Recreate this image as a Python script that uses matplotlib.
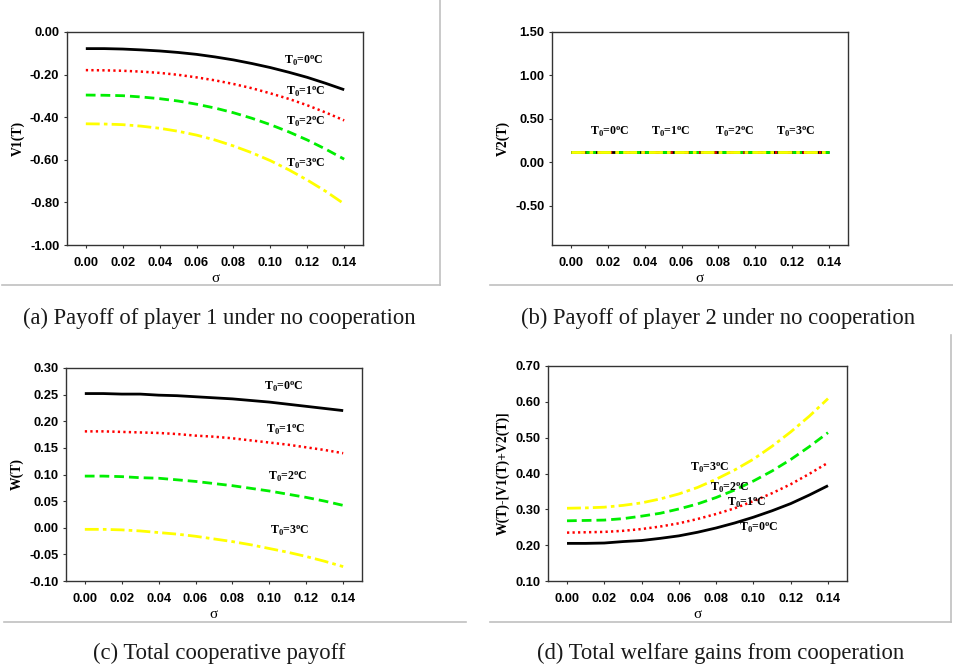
import matplotlib
matplotlib.use("Agg")
import matplotlib.pyplot as plt
from matplotlib.lines import Line2D

plt.rcParams["mathtext.fontset"] = "custom"
plt.rcParams["mathtext.rm"] = "Liberation Serif:bold"
plt.rcParams["mathtext.it"] = "Liberation Serif:bold:italic"
plt.rcParams["mathtext.bf"] = "Liberation Serif:bold"

# ---- data -------------------------------------------------------------
sigma = [0.00, 0.01, 0.02, 0.03, 0.04, 0.05, 0.06, 0.07,
         0.08, 0.09, 0.10, 0.11, 0.12, 0.13, 0.14]

temps = ["0", "1", "2", "3"]

# (a) payoff of player 1 under no cooperation
v1_t0 = [-0.078, -0.078, -0.080, -0.084, -0.089, -0.096, -0.105, -0.117,
         -0.131, -0.148, -0.167, -0.189, -0.213, -0.241, -0.271]
v1_t1 = [-0.179, -0.180, -0.182, -0.186, -0.192, -0.201, -0.213, -0.227,
         -0.244, -0.264, -0.288, -0.314, -0.344, -0.378, -0.415]
v1_t2 = [-0.296, -0.297, -0.299, -0.305, -0.313, -0.324, -0.339, -0.357,
         -0.379, -0.405, -0.435, -0.469, -0.507, -0.550, -0.597]
v1_t3 = [-0.431, -0.432, -0.435, -0.442, -0.452, -0.466, -0.484, -0.507,
         -0.535, -0.567, -0.604, -0.647, -0.695, -0.748, -0.807]

# (b) payoff of player 2 under no cooperation
v2_t0 = [0.125] * 15
v2_t1 = [0.125] * 15
v2_t2 = [0.125] * 15
v2_t3 = [0.125] * 15

# (c) total cooperative payoff
w_t0 = [0.252, 0.252, 0.251, 0.251, 0.249, 0.248, 0.246, 0.244,
        0.242, 0.239, 0.236, 0.232, 0.228, 0.224, 0.220]
w_t1 = [0.181, 0.181, 0.180, 0.179, 0.178, 0.176, 0.173, 0.171,
        0.168, 0.164, 0.160, 0.156, 0.151, 0.146, 0.140]
w_t2 = [0.097, 0.097, 0.096, 0.094, 0.093, 0.090, 0.087, 0.083,
        0.079, 0.074, 0.069, 0.063, 0.057, 0.050, 0.042]
w_t3 = [-0.003, -0.003, -0.004, -0.006, -0.009, -0.012, -0.016, -0.021,
        -0.026, -0.032, -0.039, -0.046, -0.054, -0.063, -0.073]

# (d) total welfare gains from cooperation
g_t0 = [0.205, 0.205, 0.206, 0.210, 0.213, 0.219, 0.226, 0.236,
        0.248, 0.262, 0.278, 0.296, 0.316, 0.340, 0.366]
g_t1 = [0.235, 0.236, 0.237, 0.240, 0.245, 0.252, 0.261, 0.273,
        0.287, 0.303, 0.323, 0.345, 0.370, 0.399, 0.430]
g_t2 = [0.268, 0.269, 0.270, 0.274, 0.281, 0.289, 0.301, 0.315,
        0.333, 0.354, 0.379, 0.407, 0.439, 0.475, 0.514]
g_t3 = [0.303, 0.304, 0.306, 0.311, 0.318, 0.329, 0.343, 0.361,
        0.384, 0.410, 0.440, 0.476, 0.516, 0.560, 0.609]

x_ticks = [0.00, 0.02, 0.04, 0.06, 0.08, 0.10, 0.12, 0.14]

# label anchor points (sigma, value) for each temperature
lab_a = [(0.118, -0.135), (0.119, -0.281), (0.119, -0.422), (0.119, -0.618)]
lab_b = [(0.021, 0.353), (0.054, 0.353), (0.089, 0.353), (0.122, 0.353)]
lab_c = [(0.108, 0.265), (0.109, 0.183), (0.110, 0.096), (0.111, -0.006)]
lab_d = [(0.1027, 0.249), (0.0966, 0.317), (0.0872, 0.359), (0.0765, 0.4145)]

captions = ["(a) Payoff of player 1 under no cooperation",
            "(b) Payoff of player 2 under no cooperation",
            "(c) Total cooperative payoff",
            "(d) Total welfare gains from cooperation"]

# ---- styles -----------------------------------------------------------
styles = [
    dict(color="#000000", lw=2.0, ls="-"),
    dict(color="#ff0000", lw=1.8, ls=(0, (0.9, 1.3))),
    dict(color="#00ee00", lw=2.0, ls=(0, (3.5, 1.8))),
    dict(color="#ffff00", lw=2.0, ls=(0, (5, 1.5, 1.3, 1.5))),
]

W, H = 954, 669
fig = plt.figure(figsize=(W / 100, H / 100), dpi=100)


def box(l, r, t, b):
    return [l / W, 1 - b / H, (r - l) / W, (b - t) / H]


panels = [
    dict(rect=box(67, 363, 32, 245), series=[v1_t0, v1_t1, v1_t2, v1_t3],
         ylim=(-1.0, 0.0), yticks=[-1.0, -0.8, -0.6, -0.4, -0.2, 0.0],
         ylabel="V1(T)", labels=lab_a),
    dict(rect=box(552, 848, 32, 245), series=[v2_t0, v2_t1, v2_t2, v2_t3],
         ylim=(-0.95, 1.5), yticks=[-0.5, 0.0, 0.5, 1.0, 1.5],
         ylabel="V2(T)", labels=lab_b),
    dict(rect=box(66, 362, 368, 581), series=[w_t0, w_t1, w_t2, w_t3],
         ylim=(-0.10, 0.30), yticks=[-0.10, -0.05, 0.0, 0.05, 0.10, 0.15, 0.20, 0.25, 0.30],
         ylabel="W(T)", labels=lab_c),
    dict(rect=box(548, 847, 366, 581), series=[g_t0, g_t1, g_t2, g_t3],
         ylim=(0.10, 0.70), yticks=[0.1, 0.2, 0.3, 0.4, 0.5, 0.6, 0.7],
         ylabel="W(T)-[V1(T)+V2(T)]", labels=lab_d),
]

tick_font = dict(family="Liberation Sans", weight="bold", size=9.3)

for p in panels:
    ax = fig.add_axes(p["rect"])
    for vals, st in zip(p["series"], styles):
        ax.plot(sigma, vals, color=st["color"], lw=st["lw"], ls=st["ls"],
                solid_capstyle="butt", dash_capstyle="butt")
    ax.set_xlim(-0.0102, 0.1502)
    ax.set_ylim(*p["ylim"])
    ax.set_xticks(x_ticks)
    ax.set_yticks(p["yticks"])
    ax.set_xticklabels([f"{v:.2f}" for v in x_ticks], fontdict=tick_font)
    ax.set_yticklabels([f"{v:.2f}" for v in p["yticks"]], fontdict=tick_font)
    ax.tick_params(direction="out", length=2.5, width=0.8, color="#333333",
                   pad=6)
    ax.tick_params(axis="y", pad=3)
    for s in ax.spines.values():
        s.set_color("#333333")
        s.set_linewidth(1.0)
    ax.set_xlabel("σ", family="Liberation Serif", size=11, labelpad=2)
    ax.set_ylabel(p["ylabel"], family="Liberation Serif", weight="bold",
                  size=9.8, labelpad=4)
    for t, (lx, ly) in zip(temps, p["labels"]):
        ax.text(lx, ly, r"T$_{\mathrm{0}}$=" + t + r"$^{\mathrm{o}}$C",
                family="Liberation Serif", weight="bold", size=8.6,
                ha="center", va="center")

# captions
cap_pos = [(219, 318), (718, 318), (219, 653), (721, 653)]
for (cx, cy), txt in zip(cap_pos, captions):
    fig.text(cx / W, 1 - cy / H, txt, family="Liberation Serif", size=16.3,
             ha="center", va="center", color="#1a1a1a")

# light grey panel separators
grey = "#c0c0c0"
seps = [
    ((440, 440), (0, 285)),
    ((2, 440), (285, 285)),
    ((490, 954), (285, 285)),
    ((4, 466), (621.5, 621.5)),
    ((490, 951), (621.5, 621.5)),
    ((951, 951), (335, 621.5)),
]
for xs, ys in seps:
    fig.add_artist(Line2D([x / W for x in xs], [1 - y / H for y in ys],
                          color=grey, lw=1.2, transform=fig.transFigure))

fig.savefig("out.png", dpi=100)
